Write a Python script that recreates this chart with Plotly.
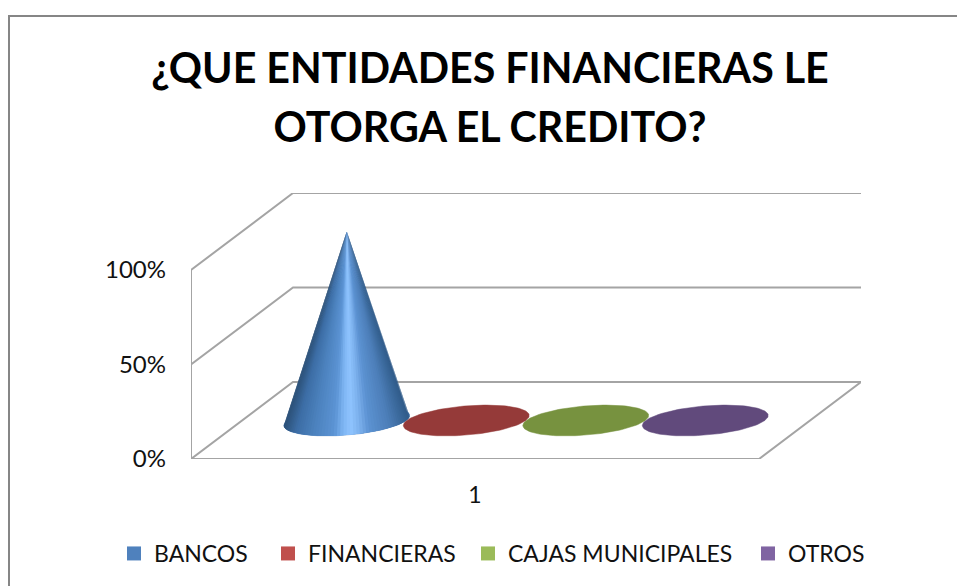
import math
import plotly.graph_objects as go

# ---- data ----
category = [1]
series_names = ["BANCOS", "FINANCIERAS", "CAJAS MUNICIPALES", "OTROS"]
series_values = [100, 0, 0, 0]
y_ticks = [0, 50, 100]
y_tick_labels = ["0%", "50%", "100%"]
title_lines = ["¿QUE ENTIDADES FINANCIERAS LE", "OTORGA EL CREDITO?"]

# ---- style ----
legend_colors = ["#4f81bd", "#c0504d", "#9bbb59", "#8064a2"]
legend_text_x = [152, 306, 506, 786]
flat_colors = ["#4a7cb6", "#953a39", "#77923f", "#614a7c"]
ramp = [(0.00, (44, 81, 120)), (0.10, (61, 110, 166)), (0.24, (76, 130, 190)),
        (0.40, (92, 148, 212)), (0.47, (125, 180, 242)), (0.53, (143, 196, 255)),
        (0.60, (125, 178, 238)), (0.68, (92, 146, 210)), (0.84, (76, 126, 184)),
        (1.00, (47, 90, 136))]
wall = "#a4a4a4"
FONT = "Lato"

# ---- plot-area geometry (pixels) and oblique projection ----
W, H = 957, 586
L, R, T, B = 191, 861, 193, 459          # plot area
FRONT_W = 568                             # width of front floor edge
PX_PER_PCT = 1.89
DEPTH_Y = (B - T) / PX_PER_PCT - 100      # depth offset in % units
X0 = 0.5
DEPTH_X = (R - L - FRONT_W) / FRONT_W     # depth offset in x units
X1 = X0 + 1
SPACING = 0.2104
RADIUS = 0.1048
DEPTH_R = 0.2
N_SLICES = 60


def proj(x, y, depth):
    return x + depth * DEPTH_X, y + depth * DEPTH_Y


def mix(f):
    for (a, ca), (b, cb) in zip(ramp, ramp[1:]):
        if f <= b:
            k = (f - a) / (b - a)
            return "rgb(%d,%d,%d)" % tuple(round(u + (v - u) * k) for u, v in zip(ca, cb))
    return "rgb(%d,%d,%d)" % ramp[-1][1]


fig = go.Figure()


def line(pts, color=wall, width=2):
    fig.add_trace(go.Scatter(x=[p[0] for p in pts], y=[p[1] for p in pts], mode="lines",
                             line=dict(color=color, width=width), hoverinfo="skip",
                             showlegend=False, cliponaxis=False))


# walls and floor
for v in y_ticks:
    line([proj(X0, v, 0), proj(X0, v, 1), proj(X1, v, 1)])
line([proj(X0, y_ticks[0], 0), proj(X0, y_ticks[-1], 0)])
line([proj(X0, 0, 0), proj(X1, 0, 0), proj(X1, 0, 1)])


def base_point(cx, t):
    dx = RADIUS * math.cos(t) + DEPTH_R * math.sin(t) * DEPTH_X
    return cx + dx, DEPTH_R * math.sin(t) * DEPTH_Y


# cones
n = len(series_values)
t0 = math.atan2(DEPTH_R * DEPTH_X, RADIUS)
for i, (name, val) in enumerate(zip(series_names, series_values)):
    x_front = category[0] + (i - (n - 1) / 2) * SPACING
    cx, cy = proj(x_front, 0, 0.5)
    ell = [base_point(cx, 2 * math.pi * k / 120) for k in range(121)]
    fig.add_trace(go.Scatter(x=[p[0] for p in ell], y=[cy + p[1] for p in ell], mode="lines",
                             fill="toself", fillcolor=flat_colors[i],
                             line=dict(color=flat_colors[i], width=0.5),
                             hoverinfo="skip", showlegend=False, cliponaxis=False))
    if val > 0:
        xmin = base_point(cx, t0 - math.pi)[0]
        xmax = base_point(cx, t0)[0]
        arc = [base_point(cx, t0 - math.pi * k / N_SLICES) for k in range(N_SLICES + 1)]
        for k in range(N_SLICES):
            # each wedge overlaps the next one, so no seam shows between them
            seg = arc[k:k + 3]
            f = ((arc[k][0] + arc[k + 1][0]) / 2 - xmin) / (xmax - xmin)
            c = mix(f)
            fig.add_trace(go.Scatter(x=[cx] + [p[0] for p in seg] + [cx],
                                     y=[cy + val] + [cy + p[1] for p in seg] + [cy + val],
                                     mode="lines", fill="toself", fillcolor=c,
                                     line=dict(width=0), hoverinfo="skip",
                                     showlegend=False, cliponaxis=False))

pw, ph = R - L, B - T

# legend entries: one small legend per series so each sits where the reference has it
legends = {}
for i, (name, c, tx) in enumerate(zip(series_names, legend_colors, legend_text_x)):
    key = "legend" if i == 0 else "legend%d" % (i + 1)
    fig.add_trace(go.Scatter(x=[None], y=[None], mode="markers", name=name, legend=key, showlegend=True,
                             marker=dict(symbol="square", size=14, color=c)))
    legends[key] = dict(orientation="h", x=(tx - 38 - L) / pw, y=(B - 532) / ph, xanchor="left", yanchor="top",
                        font=dict(size=23), itemclick=False, itemdoubleclick=False,
                        bgcolor="rgba(0,0,0,0)")

frame = dict(type="path", xref="paper", yref="paper",
             path="M %f %f L %f %f L %f %f" % ((9 - L) / pw, (B - H) / ph, (9 - L) / pw, (B - 16) / ph,
                                               (W - L) / pw, (B - 16) / ph),
             line=dict(color="#868686", width=2))

title_text = "<br>".join('<span style="font-size:41.2px">%s</span>' % t for t in title_lines)

fig.update_layout(
    width=W, height=H, autosize=False,
    margin=dict(l=L, r=W - R, t=T, b=H - B, pad=0, autoexpand=False),
    paper_bgcolor="white", plot_bgcolor="white",
    font=dict(family=FONT, color="#111111", size=22),
    title=dict(text=title_text, font=dict(family=FONT, size=45, color="black", weight="bold"),
               x=490 / W, xanchor="center", xref="container", y=1 - 83 / H, yanchor="top",
               automargin=False),
    xaxis=dict(range=[X0, X0 + (R - L) / FRONT_W], tickvals=category, ticktext=[str(c) for c in category],
               showgrid=False, zeroline=False, showline=False, ticks="", ticklabelstandoff=20,
               tickfont=dict(size=23)),
    yaxis=dict(range=[0, 100 + DEPTH_Y], tickvals=y_ticks, ticktext=y_tick_labels,
               showgrid=False, zeroline=False, showline=False, ticks="", ticklabelstandoff=24,
               tickfont=dict(size=24)),
    shapes=[frame],
    **legends,
)

fig.write_html("out.html", config={"displayModeBar": False},
               post_script="document.body.style.margin='0';")
